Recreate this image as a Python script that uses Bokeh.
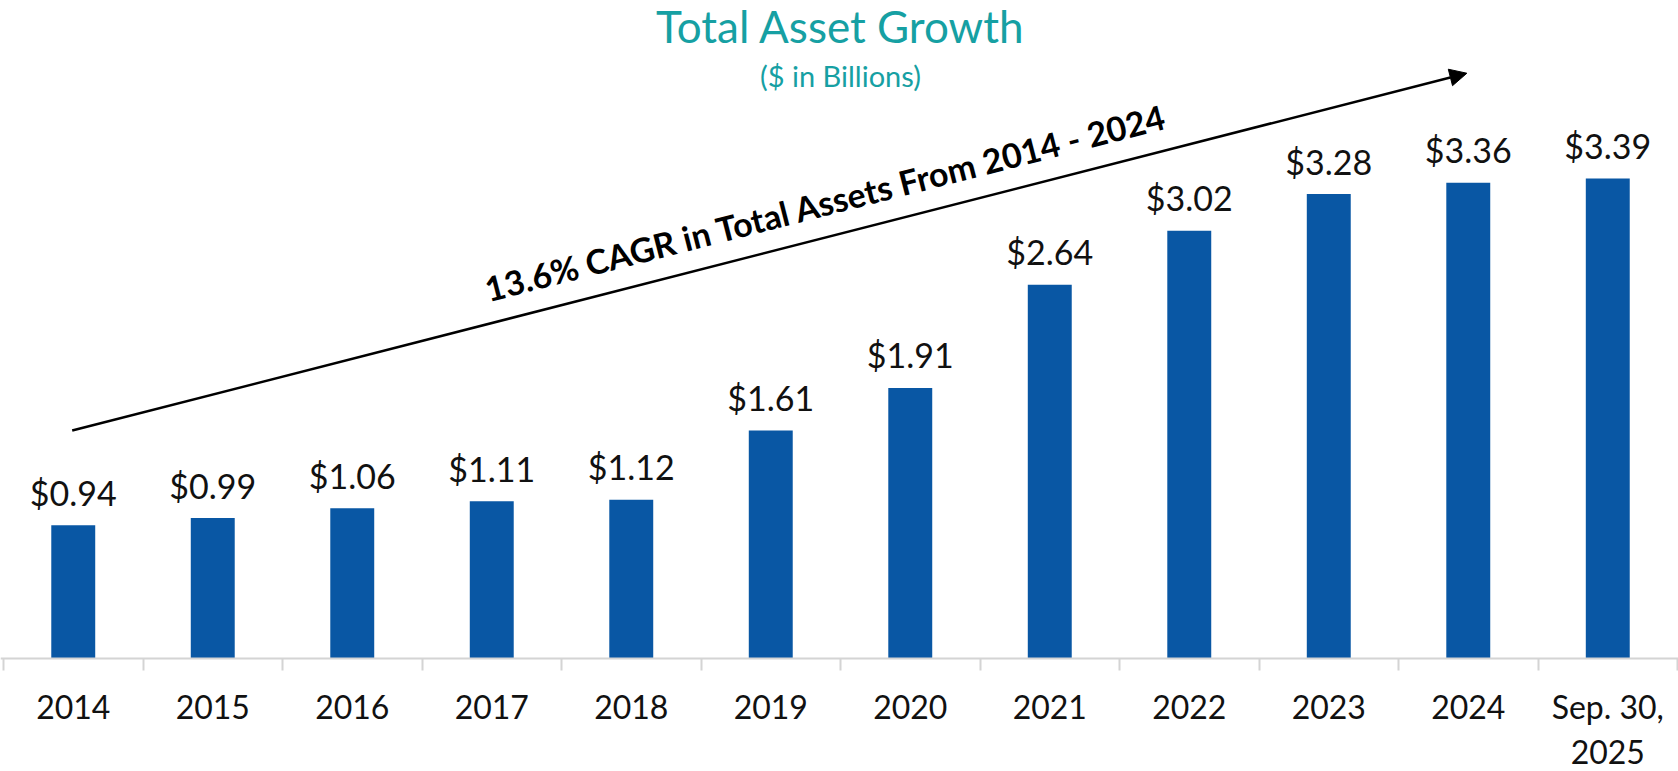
from bokeh.plotting import figure
from bokeh.models import Range1d, FixedTicker, Label, Arrow, NormalHead, ColumnDataSource
from bokeh.embed import file_html
from bokeh.resources import INLINE

categories = ["2014", "2015", "2016", "2017", "2018", "2019", "2020", "2021",
              "2022", "2023", "2024", "Sep. 30,\n2025"]
values = [0.94, 0.99, 1.06, 1.11, 1.12, 1.61, 1.91, 2.64, 3.02, 3.28, 3.36, 3.39]
value_labels = ["$%.2f" % v for v in values]

title_text = "Total Asset Growth"
subtitle_text = "($ in Billions)"
cagr_text = "13.6% CAGR in Total Assets From 2014 - 2024"
cagr_start_index = 0   # 2014
cagr_end_index = 10    # 2024

FONT = "Lato"
BAR_COLOR = "#0957A4"
TEAL = "#16A0A3"

xs = list(range(len(categories)))
src = ColumnDataSource(dict(x=xs, top=values, lab=value_labels))

p = figure(width=1678, height=771, output_backend="svg", toolbar_location=None,
           x_range=Range1d(-0.5215, 11.507), y_range=Range1d(-0.8007, 4.648),
           y_axis_location=None, min_border_left=0, min_border_right=0,
           min_border_top=0, min_border_bottom=0)
p.outline_line_color = None
p.xgrid.visible = False
p.ygrid.visible = False
p.background_fill_color = "white"
p.border_fill_color = "white"

p.vbar(x="x", top="top", width=0.315, bottom=0, source=src,
       fill_color=BAR_COLOR, line_color=None)

p.text(x="x", y="top", text="lab", source=src, y_offset=-33,
       text_align="center", text_baseline="alphabetic",
       text_font_size="34px", text_color="#111111",
       text_font={"value": FONT})

ax = p.xaxis[0]
ax.fixed_location = 0
ax.ticker = FixedTicker(ticks=xs, minor_ticks=[i - 0.5 for i in range(len(categories) + 1)])
ax.major_label_overrides = {i: c for i, c in enumerate(categories)}
ax.major_tick_out = 0
ax.major_tick_in = 0
ax.minor_tick_out = 12
ax.minor_tick_in = 0
ax.minor_tick_line_color = "#D4D4D4"
ax.minor_tick_line_width = 2
ax.axis_line_color = "#D4D4D4"
ax.axis_line_width = 2
ax.major_label_standoff = 17
ax.major_label_text_font = FONT
ax.major_label_text_font_size = "32px"
ax.major_label_text_line_height = 1.15
ax.major_label_text_color = "#111111"

p.add_layout(Label(x=5.5, y=4.465, text=title_text, text_align="center",
                   text_baseline="alphabetic", text_font=FONT,
                   text_font_size="44px", text_color=TEAL))
p.add_layout(Label(x=5.5, y=4.118, text=subtitle_text, text_align="center",
                   text_baseline="alphabetic", text_font=FONT,
                   text_font_size="29px", text_color=TEAL))

p.add_layout(Arrow(end=NormalHead(size=17, fill_color="black", line_color="black"),
                   x_start=cagr_start_index - 0.0075, y_start=1.609,
                   x_end=cagr_end_index - 0.01, y_end=4.134,
                   line_width=2.5, line_color="black"))

p.add_layout(Label(x=5.394, y=3.224, text=cagr_text, angle=0.2505,
                   text_align="center", text_baseline="middle",
                   text_font=FONT, text_font_style="bold",
                   text_font_size="34px", text_color="black"))

open("out.html", "w").write(file_html(p, INLINE))
